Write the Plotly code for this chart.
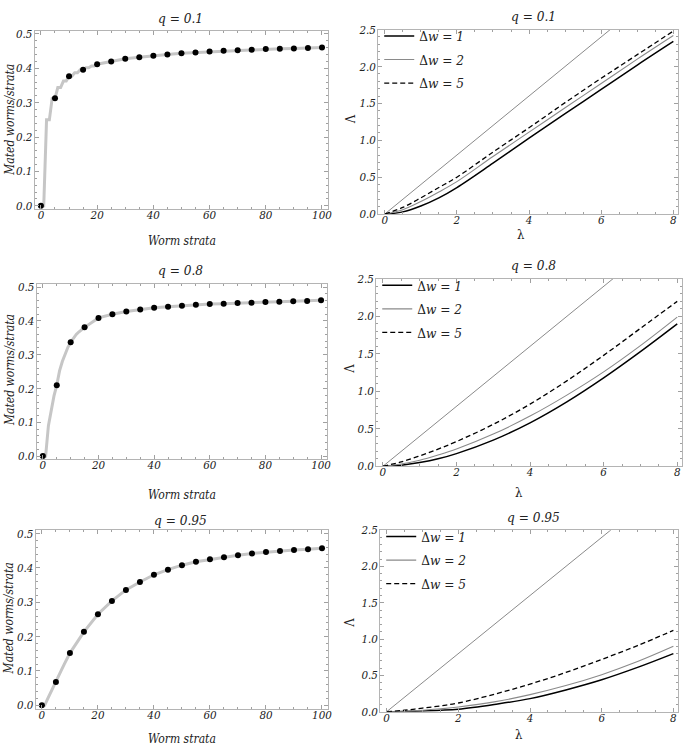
import plotly.graph_objects as go

# ---------------- data ----------------
strata_pts = [0, 5, 10, 15, 20, 25, 30, 35, 40, 45, 50, 55, 60, 65, 70, 75, 80, 85, 90, 95, 100]
mated_q01 = [0.000, 0.313, 0.377, 0.396, 0.412, 0.420, 0.428, 0.432, 0.437, 0.440, 0.444,
             0.446, 0.449, 0.451, 0.453, 0.454, 0.456, 0.457, 0.458, 0.459, 0.461]
mated_q08 = [0.000, 0.210, 0.337, 0.381, 0.409, 0.420, 0.428, 0.434, 0.439, 0.442, 0.445,
             0.448, 0.450, 0.451, 0.453, 0.454, 0.456, 0.457, 0.458, 0.459, 0.461]
mated_q095 = [0.000, 0.068, 0.152, 0.214, 0.265, 0.304, 0.336, 0.359, 0.380, 0.395, 0.408,
              0.418, 0.425, 0.431, 0.437, 0.442, 0.446, 0.449, 0.452, 0.454, 0.457]

line_x_q01 = list(range(0, 21)) + [25, 30, 35, 40, 45, 50, 55, 60, 65, 70, 75, 80, 85, 90, 95, 100]
line_q01 = [0, 0, 0.25, 0.25, 0.3125, 0.3125, 0.344, 0.344, 0.363, 0.363, 0.377,
            0.377, 0.387, 0.387, 0.396, 0.396, 0.402, 0.402, 0.407, 0.407, 0.412,
            0.420, 0.428, 0.432, 0.437, 0.440, 0.444, 0.446, 0.449, 0.451, 0.453,
            0.454, 0.456, 0.457, 0.458, 0.459, 0.461]
line_x_q08 = list(range(0, 16)) + [20, 25, 30, 35, 40, 45, 50, 55, 60, 65, 70, 75, 80, 85, 90, 95, 100]
line_q08 = [0, 0, 0.09, 0.135, 0.178, 0.210, 0.252, 0.280, 0.303, 0.322, 0.337,
            0.350, 0.360, 0.368, 0.375, 0.381,
            0.409, 0.420, 0.428, 0.434, 0.439, 0.442, 0.445, 0.448, 0.450, 0.451,
            0.453, 0.454, 0.456, 0.457, 0.458, 0.459, 0.461]
line_x_q095 = list(range(0, 11)) + [15, 20, 25, 30, 35, 40, 45, 50, 55, 60, 65, 70, 75, 80, 85, 90, 95, 100]
line_q095 = [0, 0, 0.018, 0.036, 0.052, 0.068, 0.086, 0.103, 0.120, 0.136, 0.152,
             0.214, 0.265, 0.304, 0.336, 0.359, 0.380, 0.395, 0.408, 0.418, 0.425,
             0.431, 0.437, 0.442, 0.446, 0.449, 0.452, 0.454, 0.457]

lam = [0, 0.5, 1, 1.5, 2, 3, 4, 5, 6, 7, 8]
ref_x = [0, 8]
ref_y = [0, 3.2]

q01_dw1 = [0, 0.03, 0.11, 0.22, 0.36, 0.69, 1.03, 1.36, 1.69, 2.02, 2.34]
q01_dw2 = [0, 0.06, 0.17, 0.30, 0.44, 0.78, 1.11, 1.44, 1.77, 2.10, 2.42]
q01_dw5 = [0, 0.09, 0.22, 0.36, 0.50, 0.84, 1.17, 1.51, 1.84, 2.16, 2.48]

q08_dw1 = [0, 0.015, 0.05, 0.10, 0.17, 0.35, 0.58, 0.86, 1.18, 1.53, 1.90]
q08_dw2 = [0, 0.03, 0.08, 0.15, 0.23, 0.43, 0.67, 0.95, 1.26, 1.61, 1.99]
q08_dw5 = [0, 0.06, 0.14, 0.23, 0.33, 0.56, 0.83, 1.14, 1.48, 1.84, 2.20]

q095_dw1 = [0, 0.003, 0.01, 0.02, 0.035, 0.10, 0.18, 0.30, 0.44, 0.61, 0.80]
q095_dw2 = [0, 0.006, 0.02, 0.04, 0.065, 0.135, 0.235, 0.36, 0.51, 0.69, 0.90]
q095_dw5 = [0, 0.02, 0.05, 0.08, 0.12, 0.24, 0.38, 0.54, 0.72, 0.91, 1.12]

q_labels = ["0.1", "0.8", "0.95"]
legend_names = ["Δ<i>w</i> = <i>1</i>", "Δ<i>w</i> = <i>2</i>", "Δ<i>w</i> = <i>5</i>"]

# ---------------- layout helpers ----------------
W, H = 689, 756
FONT = "DejaVu Serif Condensed, DejaVu Serif"
left_frames = [(35, 24, 330, 206), (37, 282, 329, 461), (36, 533, 330, 715)]
right_frames = [(381, 23, 683, 211), (379, 277, 687, 468), (383, 533, 683, 718)]

def dom(fr):
    x0, y0, x1, y1 = fr
    return [x0 / W, x1 / W], [1 - y1 / H, 1 - y0 / H]

FRAME = "#b4b4b4"
TICKC = "#a0a0a0"
tickfont = dict(family=FONT, size=11.5, color="#222", style="italic")

fig = go.Figure()
layout = {}

left_data = [(line_x_q01, line_q01, mated_q01), (line_x_q08, line_q08, mated_q08),
             (line_x_q095, line_q095, mated_q095)]
right_data = [(q01_dw1, q01_dw2, q01_dw5), (q08_dw1, q08_dw2, q08_dw5), (q095_dw1, q095_dw2, q095_dw5)]

def axis_common(domain, rng, tickvals, fmt, minor_dtick, anchor, standoff):
    return dict(domain=domain, range=rng, tickvals=tickvals, tickformat=fmt,
                showgrid=False, zeroline=False, showline=True, linecolor=FRAME, linewidth=1,
                mirror="allticks", ticks="inside", ticklen=4, tickcolor=TICKC, tickwidth=1,
                minor=dict(dtick=minor_dtick, tick0=0, ticks="inside", ticklen=2, tickcolor=TICKC),
                tickfont=tickfont, anchor=anchor, fixedrange=True, ticklabelstandoff=standoff)

for i in range(3):
    n = 2 * i + 1
    xa, ya = f"x{n}", f"y{n}"
    xd, yd = dom(left_frames[i])
    layout[f"xaxis{n}"] = axis_common(xd, [-2.2, 102], [0, 20, 40, 60, 80, 100], "d", 5, ya, -5)
    layout[f"yaxis{n}"] = axis_common(yd, [-0.01, 0.51], [0, 0.1, 0.2, 0.3, 0.4, 0.5], ".1f", 0.02, xa, -1)
    lx, ly, dots = left_data[i]
    fig.add_trace(go.Scatter(x=lx, y=ly, mode="lines", line=dict(color="#c6c6c6", width=3),
                             xaxis=xa, yaxis=ya, showlegend=False, hoverinfo="skip"))
    fig.add_trace(go.Scatter(x=strata_pts, y=dots, mode="markers",
                             marker=dict(color="black", size=6), xaxis=xa, yaxis=ya, showlegend=False))

    n = 2 * i + 2
    xa, ya = f"x{n}", f"y{n}"
    xd, yd = dom(right_frames[i])
    layout[f"xaxis{n}"] = axis_common(xd, [-0.18, 8.13], [0, 2, 4, 6, 8], "d", 0.5, ya, -5)
    layout[f"yaxis{n}"] = axis_common(yd, [0, 2.5], [0, 0.5, 1, 1.5, 2, 2.5], ".1f", 0.1, xa, -1)
    leg = "legend" if i == 0 else f"legend{i + 1}"
    d1, d2, d5 = right_data[i]
    fig.add_trace(go.Scatter(x=ref_x, y=ref_y, mode="lines", line=dict(color="#8a8a8a", width=1),
                             xaxis=xa, yaxis=ya, showlegend=False))
    styles = [dict(color="black", width=1.5), dict(color="#8a8a8a", width=1.1),
              dict(color="black", width=1.3, dash="5px,3px")]
    for k, ys in enumerate([d1, d2, d5]):
        fig.add_trace(go.Scatter(x=lam, y=ys, mode="lines", line=dict(shape="spline", **styles[k]),
                                 name=legend_names[k], xaxis=xa, yaxis=ya, legend=leg,
                                 legendgroup=f"g{i}{k}"))
    layout[leg] = dict(x=(right_frames[i][0] + 1) / W, y=1 - (right_frames[i][1] - 9) / H,
                       xanchor="left", yanchor="top", bgcolor="rgba(0,0,0,0)",
                       font=dict(family=FONT, size=13.5, color="#222"), tracegroupgap=3,
                       itemwidth=30)

annotations = []
def ann(text, x, y, size=13, italic=True, angle=0):
    annotations.append(dict(text=text, x=x / W, y=1 - y / H, xref="paper", yref="paper",
                            showarrow=False, textangle=angle, xanchor="center", yanchor="middle",
                            font=dict(family=FONT, size=size, color="#222",
                                      style="italic" if italic else "normal")))

title_pos = [((182, 11), (537, 9)), ((182, 268), (537, 263)), ((182, 523), (537, 520))]
xlab_left = [(183, 238), (183, 497), (183, 746)]
ylab_left = [(10, 115), (10, 370), (10, 623)]
xlab_right = [(525, 232), (523, 495), (523, 741)]
ylab_right = [(353, 114), (352, 368), (352, 627)]
for i in range(3):
    ann(f"q = {q_labels[i]}", *title_pos[i][0], size=13.5)
    ann(f"q = {q_labels[i]}", *title_pos[i][1], size=13.5)
    ann("Worm strata", *xlab_left[i], size=12)
    ann("Mated worms/strata", *ylab_left[i], size=12, angle=-90)
    ann("λ", *xlab_right[i], size=13, italic=False)
    ann("Λ", *ylab_right[i], size=13, italic=False, angle=-90)

fig.update_layout(width=W, height=H, margin=dict(l=0, r=0, t=0, b=0),
                  paper_bgcolor="white", plot_bgcolor="white", annotations=annotations,
                  showlegend=True, **layout)
fig.write_html("out.html", config={"displayModeBar": False},
               post_script="document.body.style.margin='0';document.body.style.overflow='hidden';")
